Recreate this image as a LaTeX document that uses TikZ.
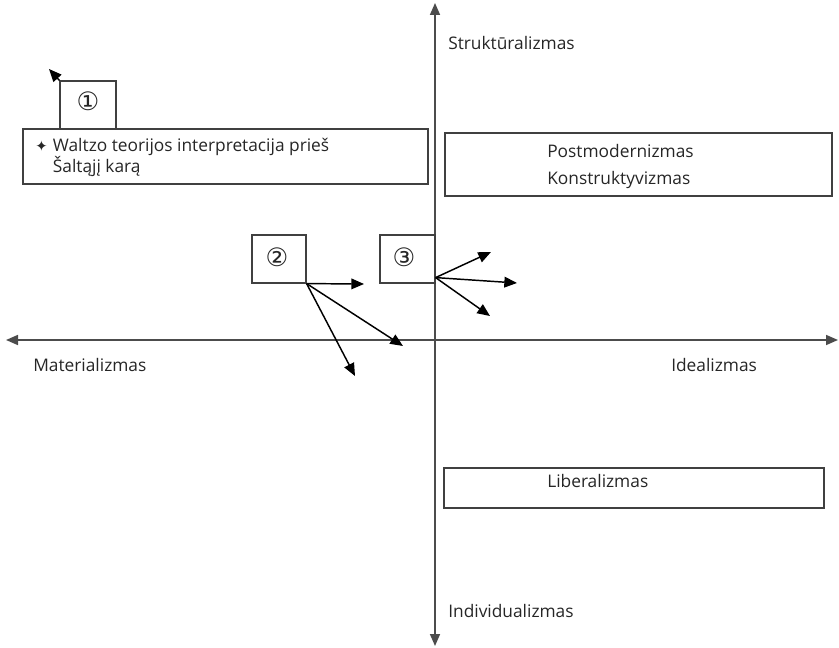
\documentclass[tikz,border=0pt]{standalone}
\usepackage{fontspec}
\setmainfont{Open Sans}
\newfontfamily\symfont{DejaVu Sans}
\usetikzlibrary{arrows.meta}
\tikzset{
  box/.style={draw=black!75, line width=0.9pt, inner sep=0pt},
  lbl/.style={text=black!85, inner sep=0pt, font=\fontsize{13}{15.75}\selectfont},
  num/.style={text=black!85, inner sep=0pt, font=\symfont\fontsize{19}{20}\selectfont},
  axis/.style={draw=black!70, line width=1.2pt,
    {Triangle[length=9pt,width=7.5pt]}-{Triangle[length=9pt,width=7.5pt]}},
  ray/.style={line width=1.1pt, -{Triangle[length=9.5pt,width=8pt]}},
}
\newcommand{\starmark}{{\symfont\fontsize{11}{12}\selectfont ✦}\hspace{4pt}}
\begin{document}
\begin{tikzpicture}[x=0.75pt,y=-0.75pt]
      \useasboundingbox (0,0) rectangle (839,648);
      % axes
      \coordinate (W) at (6,340);
      \coordinate (E) at (838,340);
      \coordinate (N) at (435,3);
      \coordinate (S) at (435,646);
      \draw[axis] (W) -- (E);
      \draw[axis] (S) -- (N);
      \node[lbl, anchor=base west] at (448,50) (struct) {Struktūralizmas};
      \node[lbl, anchor=base west] at (448,617) (indiv) {Individualizmas};
      \node[lbl, anchor=base west] at (33,372) (mater) {Materializmas};
      \node[lbl, anchor=base west] at (671,372) (ideal) {Idealizmas};
      % first box
      \node[box, minimum width=42pt, minimum height=36pt] at (88,105) (B1) {};
      \node[num] at (88,101) (n1) {①};
      \coordinate (t1) at (49,69);
      \draw[ray] (B1.north west) -- (t1);
      \node[box, minimum width=303.75pt, minimum height=41.25pt] at (225.5,156.5) (waltz) {};
      \node[lbl, anchor=north west, align=left] at (35,138) (waltztext)
        {\starmark Waltzo teorijos interpretacija prieš\\
         \hphantom{\starmark}Šaltąjį karą};
      % right boxes
      \node[box, minimum width=290.25pt, minimum height=47.25pt] at (638.5,164.5) (postmod) {};
      \node[lbl, anchor=north west, align=left, font=\fontsize{13}{20.25}\selectfont] at (547,144) (postmodtext)
        {Postmodernizmas\\Konstruktyvizmas};
      \node[box, minimum width=285pt, minimum height=30pt] at (634,488) (liberal) {};
      \node[lbl, anchor=base west] at (547,488) (liberaltext) {Liberalizmas};
      % second box
      \node[box, minimum width=40.5pt, minimum height=36pt] at (279,259) (B2) {};
      \node[num] at (277,257) (n2) {②};
      \coordinate (t21) at (364,284);
      \coordinate (t22) at (403,346);
      \coordinate (t23) at (355,376);
      \draw[ray] (B2.south east) -- (t21);
      \draw[ray] (B2.south east) -- (t22);
      \draw[ray] (B2.south east) -- (t23);
      % third box
      \node[box, minimum width=41.25pt, minimum height=36pt] at (407.5,259) (B3) {};
      \node[num] at (404,257) (n3) {③};
      \coordinate (o3) at ([yshift=4.5pt]B3.south east);
      \coordinate (t31) at (491,252);
      \coordinate (t32) at (517,283);
      \coordinate (t33) at (490,316);
      \draw[ray] (o3) -- (t31);
      \draw[ray] (o3) -- (t32);
      \draw[ray] (o3) -- (t33);
\end{tikzpicture}
\end{document}
